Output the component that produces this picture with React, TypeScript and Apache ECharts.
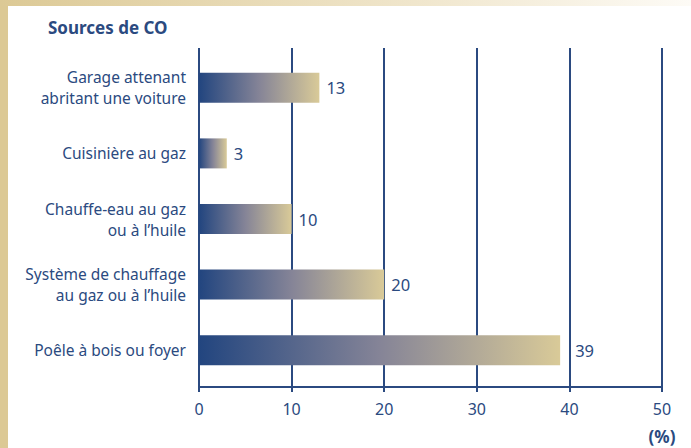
import React, { useEffect, useRef } from "react";
import * as echarts from "echarts";

const categories = [
  ["Garage attenant", "abritant une voiture"],
  ["Cuisinière au gaz"],
  ["Chauffe-eau au gaz", "ou à l’huile"],
  ["Système de chauffage", "au gaz ou à l’huile"],
  ["Poêle à bois ou foyer"],
];
const values = [13, 3, 10, 20, 39];
const xTicks = { min: 0, max: 50, interval: 10 };
const title = "Sources de CO";
const unitLabel = "(%)";

const BLUE = "#2b4a80";
const FONT = "Noto Sans";

export default function App() {
  const ref = useRef<HTMLDivElement>(null);
  useEffect(() => {
    if (!ref.current) return;
    const chart = echarts.init(ref.current, null, { renderer: "svg" });
    const barGradient = new echarts.graphic.LinearGradient(0, 0, 1, 0, [
      { offset: 0, color: "#22457f" },
      { offset: 0.5, color: "#858497" },
      { offset: 1, color: "#d9ca98" },
    ]);
    chart.setOption({
      animation: false,
      backgroundColor: "#ffffff",
      textStyle: { fontFamily: FONT },
      title: {
        text: title,
        left: 43,
        top: 14,
        textStyle: { color: BLUE, fontSize: 17, fontWeight: "bold", fontFamily: FONT },
      },
      graphic: [
        { type: "rect", left: 0, top: 0, shape: { width: 8, height: 448 }, style: { fill: "#dcc995" }, z: 10 },
        {
          type: "rect",
          left: 0,
          top: 0,
          shape: { width: 691, height: 6 },
          style: {
            fill: new echarts.graphic.LinearGradient(0, 0, 1, 0, [
              { offset: 0, color: "#dcc995" },
              { offset: 0.6, color: "#f0e6cc" },
              { offset: 1, color: "#fdfbf6" },
            ]),
          },
          z: 10,
        },
        {
          type: "text",
          x: 662,
          y: 436,
          style: {
            text: unitLabel,
            fill: BLUE,
            font: `bold 17px "${FONT}"`,
            textAlign: "center",
            textVerticalAlign: "middle",
          },
        },
      ],
      grid: [
        { left: 199, right: 29, top: 48, height: 339 },
        { left: 199, right: 29, top: 55, height: 328 },
      ],
      xAxis: [
        {
          gridIndex: 0,
          type: "value",
          min: xTicks.min,
          max: xTicks.max,
          interval: xTicks.interval,
          axisLine: { show: true, lineStyle: { color: BLUE, width: 2 } },
          axisTick: { show: true, length: 5, lineStyle: { color: BLUE, width: 2 } },
          axisLabel: { color: BLUE, fontSize: 16, margin: 14, fontFamily: FONT },
          splitLine: { show: true, lineStyle: { color: BLUE, width: 2 } },
        },
        {
          gridIndex: 1,
          type: "value",
          min: xTicks.min,
          max: xTicks.max,
          show: false,
          splitLine: { show: false },
        },
      ],
      yAxis: [
        {
          gridIndex: 0,
          type: "category",
          data: categories.map((c) => c.join("\n")),
          show: false,
        },
        {
          gridIndex: 1,
          type: "category",
          inverse: true,
          data: categories.map((c) => c.join("\n")),
          axisLine: { show: false },
          axisTick: { show: false },
          axisLabel: {
            color: BLUE,
            fontSize: 15.5,
            margin: 13,
            lineHeight: 21,
            fontFamily: FONT,
            align: "right",
          },
        },
      ],
      series: [
        {
          type: "bar",
          xAxisIndex: 1,
          yAxisIndex: 1,
          z: 5,
          data: values.map((v, i) =>
            i === values.length - 1 ? { value: v, label: { distance: 15 } } : v
          ),
          barWidth: 30,
          itemStyle: { color: barGradient },
          label: {
            show: true,
            position: "right",
            distance: 7,
            color: BLUE,
            fontSize: 16.5,
            fontFamily: FONT,
          },
        },
      ],
    });
    return () => chart.dispose();
  }, []);
  return (
    <div
      ref={ref}
      style={{ position: "fixed", left: 0, top: 0, width: 691, height: 448 }}
    />
  );
}
